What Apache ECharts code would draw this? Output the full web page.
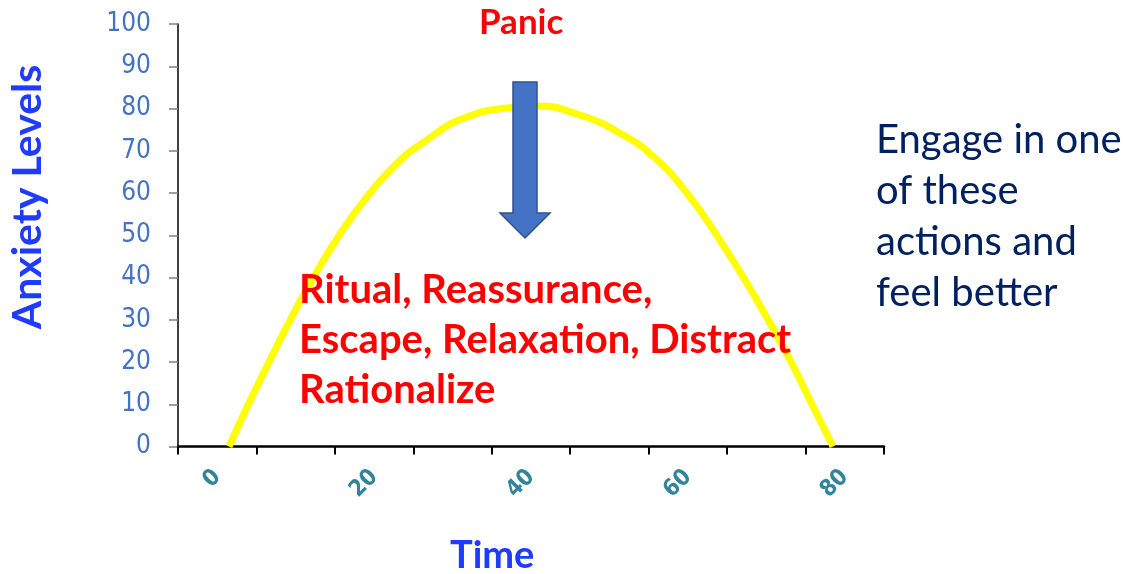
<!DOCTYPE html>
<html>
<head>
<meta charset="utf-8">
<script src="https://cdn.jsdelivr.net/npm/echarts@6/dist/echarts.min.js"></script>
<style>
  html, body { margin: 0; padding: 0; background: #fff; }
  #chart { width: 1124px; height: 574px; }
</style>
</head>
<body>
<div id="chart"></div>
<script>
// category labels on the time axis (every other one shown)
const timeTicks = ['0', '10', '20', '30', '40', '50', '60', '70', '80'];
// anxiety curve: time / level
const curveTime = [1.5, 3.8, 6.5, 9.3, 12.3, 15.7, 19.1, 22.9, 26.7, 31.4, 37.8, 40.7, 46.3, 51.4, 55.6, 59.9, 64.1, 68.3, 72.6, 76.0, 78.5];
const curveLevel = [0, 9.3, 19.6, 29.9, 40.1, 50.4, 59.1, 67.0, 72.5, 77.7, 80.3, 80.6, 78.4, 74.1, 68.6, 59.9, 48.8, 36.2, 22.0, 9.3, 0];

const curveData = curveTime.map((t, i) => [t, curveLevel[i]]);

const chart = echarts.init(document.getElementById('chart'), null, { renderer: 'canvas' });

const option = {
  backgroundColor: '#ffffff',
  animation: false,
  grid: { left: 178, right: 240, top: 24, bottom: 127.5 },
  xAxis: [
    {
      type: 'category',
      data: timeTicks,
      boundaryGap: true,
      axisLine: { show: true, lineStyle: { color: '#000', width: 2.5 } },
      axisTick: { show: true, interval: 0, length: 8, lineStyle: { color: '#000', width: 2 } },
      axisLabel: {
        interval: 1,
        rotate: 45,
        margin: 27,
        color: '#31849B',
        fontFamily: '"DejaVu Sans Condensed", "DejaVu Sans"',
        fontWeight: 'bold',
        fontSize: 23
      },
      splitLine: { show: false }
    },
    {
      type: 'value',
      min: -5,
      max: 85,
      show: false
    }
  ],
  yAxis: {
    type: 'value',
    min: 0,
    max: 100,
    interval: 10,
    axisLine: { show: true, onZero: false, lineStyle: { color: '#000', width: 1.5 } },
    axisTick: { show: true, length: 9, lineStyle: { color: '#7f7f7f', width: 1.5 } },
    axisLabel: {
      margin: 27,
      color: '#4472C4',
      fontFamily: '"DejaVu Sans Condensed", "DejaVu Sans"',
      fontSize: 26
    },
    splitLine: { show: false }
  },
  series: [{
    type: 'line',
    xAxisIndex: 1,
    data: curveData,
    smooth: true,
    showSymbol: false,
    lineStyle: { color: '#FFFF00', width: 7 }
  }],
  graphic: [
    {
      type: 'polygon',
      shape: {
        points: [[513, 82], [537, 82], [537, 213], [550, 213], [525, 238], [500, 213], [513, 213]]
      },
      style: { fill: '#4472C4', stroke: '#2F528F', lineWidth: 1.5 },
      z: 100
    },
    {
      type: 'text',
      left: 479, top: 5,
      style: { text: 'Panic', fill: '#FF0000', font: 'bold 35px Lato' },
      z: 100
    },
    {
      type: 'text',
      left: 299, top: 265,
      style: {
        text: 'Ritual, Reassurance,\nEscape, Relaxation, Distract\nRationalize',
        fill: '#FF0000', font: 'bold 40px Lato', lineHeight: 50
      },
      z: 100
    },
    {
      type: 'text',
      left: 876, top: 115,
      style: {
        text: 'Engage in one\nof these\nactions and\nfeel better',
        fill: '#002060', font: '40px Lato', lineHeight: 51
      },
      z: 100
    },
    {
      type: 'text',
      left: 450, top: 537,
      style: { text: 'Time', fill: '#1F3BFF', font: 'bold 38px Lato' },
      z: 100
    },
    {
      type: 'text',
      x: 28, y: 197,
      rotation: Math.PI / 2,
      style: {
        text: 'Anxiety Levels', fill: '#1F3BFF', font: 'bold 41px Lato',
        align: 'center', verticalAlign: 'middle'
      },
      z: 100
    }
  ]
};

chart.setOption(option);
</script>
</body>
</html>
